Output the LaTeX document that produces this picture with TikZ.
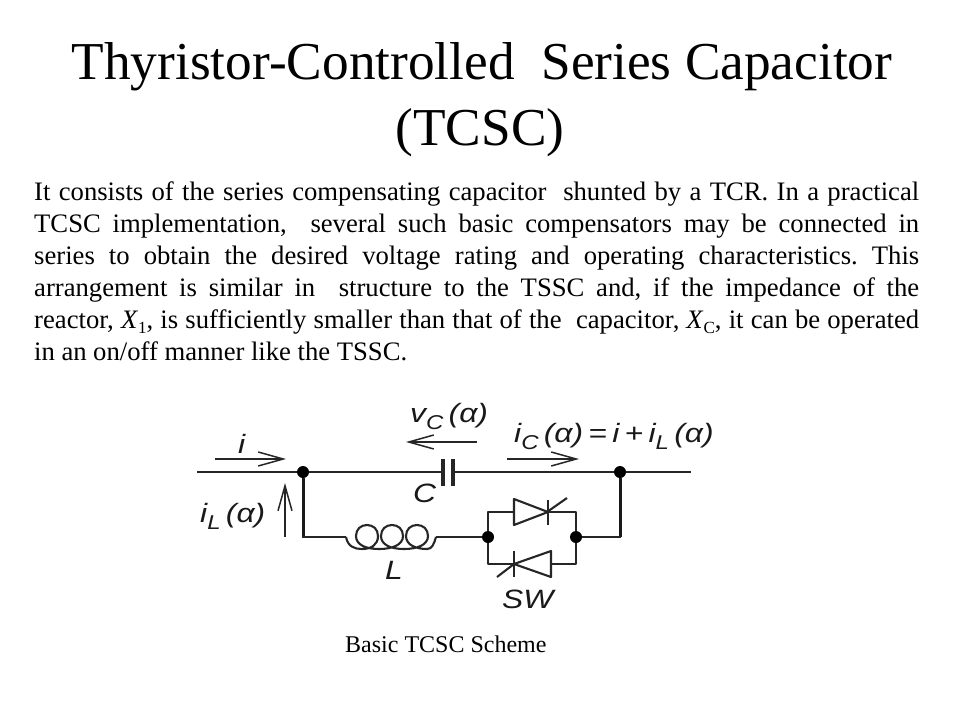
\documentclass[tikz,border=0pt]{standalone}
\usepackage{fontspec}
\usepackage{graphicx}
\usetikzlibrary{arrows.meta}
\setmainfont{Liberation Serif}
\newfontfamily\diagfont{Liberation Sans}
\newcommand{\bodyline}[2]{\hbox to #1pt{\frenchspacing #2}}
\newcommand{\sbs}[1]{\raisebox{-0.22em}{\fontsize{17}{17}\selectfont #1}}
\newcommand{\dsub}[1]{\raisebox{-0.3em}{\fontsize{20}{20}\selectfont\itshape #1}}
\newcommand{\wide}[1]{\scalebox{1.2}[1]{#1}}
\tikzset{
  titletext/.style={anchor=base,inner sep=0pt,font=\fontsize{53.3}{53.3}\selectfont},
  bodytext/.style={anchor=base west,inner sep=0pt,font=\fontsize{26.67}{26.67}\selectfont},
  captext/.style={anchor=base west,inner sep=0pt,font=\fontsize{24}{24}\selectfont},
  difflabel/.style={anchor=base west,inner sep=0pt,text=black!90,font=\diagfont\itshape\fontsize{26.5}{26.5}\selectfont},
  wire/.style={line width=2.1pt,black!85},
  thickwire/.style={line width=3pt,black!90,line join=round},
  thinwire/.style={line width=2.1pt,black!85,line join=round},
  coilwire/.style={line width=2.1pt,black!85},
  flow/.style={line width=1.5pt,black!85,-{Straight Barb[length=25pt,width=14pt,line width=1.5pt]}},
  junction/.style={circle,fill=black,inner sep=0pt,minimum size=12pt},
  gate/.style={line width=2.1pt,black!85}
}
\begin{document}
\begin{tikzpicture}[x=1pt,y=-1pt]
\useasboundingbox (0,0) rectangle (960,720);
\fill[white] (0,0) rectangle (960,720);
% title
\node[titletext] (t1) at (482,79.5) {Thyristor-Controlled\ \ Series Capacitor};
\node[titletext] (t2) at (480,145) {(TCSC)};
% body
\node[bodytext] (b1) at (34,200) {\bodyline{885}{It consists of the series compensating capacitor\ \ shunted by a TCR. In a practical}};
\node[bodytext] (b2) at (34,232) {\bodyline{885}{TCSC implementation,\ \ several such basic compensators may be connected in}};
\node[bodytext] (b3) at (34,264) {\bodyline{885}{series to obtain the desired voltage rating and operating characteristics. This}};
\node[bodytext] (b4) at (34,296) {\bodyline{885}{arrangement is similar in\ \ structure to the TSSC and, if the impedance of the}};
\node[bodytext] (b5) at (34,328) {\bodyline{885}{reactor, \textit{X}\sbs{1}, is sufficiently smaller than that of the\ \ capacitor, \textit{X}\sbs{C}, it can be operated}};
\node[bodytext] (b6) at (34,360) {\bodyline{373}{in an on/off manner like the TSSC.}};
\node[captext] (cap) at (345,652) {Basic TCSC Scheme};
% junctions and corners
\node[junction] (ja) at (303,472) {};
\node[junction] (jb) at (620,472) {};
\node[junction] (jc) at (488,537) {};
\node[junction] (jd) at (576,537) {};
\coordinate (in) at (197,472);
\coordinate (out) at (691,472);
\coordinate (capl) at (443,472);
\coordinate (capr) at (453,472);
\coordinate (cornerl) at (303,537);
\coordinate (cornerr) at (620,537);
\coordinate (coilin) at (346,537);
\coordinate (coilout) at (436,537);
% main line with capacitor
\draw[wire] (in) -- (ja) -- (capl);
\draw[wire] (capr) -- (jb) -- (out);
\draw[line width=3.2pt,black!85] (443,459) -- (443,486);
\draw[line width=3.2pt,black!85] (453,459) -- (453,486);
% lower branch
\draw[thickwire] (ja) -- (cornerl);
\draw[thinwire] (302,537) -- (coilin);
\draw[thickwire] (jb) -- (cornerr);
\draw[thinwire] (621,537) -- (jd);
\draw[thinwire] (coilout) -- (jc);
% coil
\draw[coilwire] (coilin) .. controls (348,547) and (355,549) .. (362,549)
  .. controls (371,549) and (378,545) .. (378,536)
  .. controls (378,529) and (373,525) .. (367,525)
  .. controls (361,525) and (356,529) .. (356,536)
  .. controls (356,545) and (366,549) .. (379,549)
  .. controls (392,549) and (403,545) .. (403,536)
  .. controls (403,529) and (398,525) .. (392,525)
  .. controls (386,525) and (381,529) .. (381,536)
  .. controls (381,545) and (391,549) .. (404,549)
  .. controls (417,549) and (428,545) .. (428,536)
  .. controls (428,529) and (423,525) .. (417,525)
  .. controls (411,525) and (406,529) .. (406,536)
  .. controls (406,545) and (416,549) .. (427,549)
  .. controls (432,549) and (434,544) .. (coilout);
% thyristors
\coordinate (ttl) at (488,512);
\coordinate (ttr) at (576,512);
\coordinate (tbl) at (488,564);
\coordinate (tbr) at (576,564);
\draw[thinwire] (jc) -- (ttl) -- (514,512);
\draw[thinwire] (514,499) -- (514,525) -- (548,512) -- cycle;
\draw[thinwire] (548,512) -- (ttr) -- (jd);
\draw[thinwire] (548,500) -- (548,525);
\draw[gate] (547,512) -- (567,498);
\draw[thinwire] (jc) -- (tbl) -- (514,564);
\draw[thinwire] (551,551) -- (551,577) -- (514,564) -- cycle;
\draw[thinwire] (551,564) -- (tbr) -- (jd);
\draw[thinwire] (514,551) -- (514,577);
\draw[gate] (514,564) -- (497,577);
% flow arrows
\coordinate (ai0) at (215,459); \coordinate (ai1) at (286,459);
\coordinate (av0) at (477,442); \coordinate (av1) at (406,442);
\coordinate (ac0) at (507,459); \coordinate (ac1) at (579,459);
\coordinate (al0) at (285,537); \coordinate (al1) at (285,483);
\draw[flow] (ai0) -- (ai1);
\draw[flow] (av0) -- (av1);
\draw[flow] (ac0) -- (ac1);
\draw[flow] (al0) -- (al1);
% labels
\node[difflabel] (li) at (238,453) {\wide{i}};
\node[difflabel] (lv) at (410,422) {\wide{v\dsub{C}\,(\textit{α})}};
\node[difflabel] (lic) at (514,442) {\wide{i\dsub{C}\,(\textit{α})\,=\,i\,+\,i\dsub{L}\,(\textit{α})}};
\node[difflabel] (lil) at (200,522) {\wide{i\dsub{L}\,(\textit{α})}};
\node[difflabel] (lc) at (413,502) {\wide{C}};
\node[difflabel] (ll) at (385,579) {\wide{L}};
\node[difflabel] (lsw) at (502,608) {\wide{SW}};
\end{tikzpicture}
\end{document}
